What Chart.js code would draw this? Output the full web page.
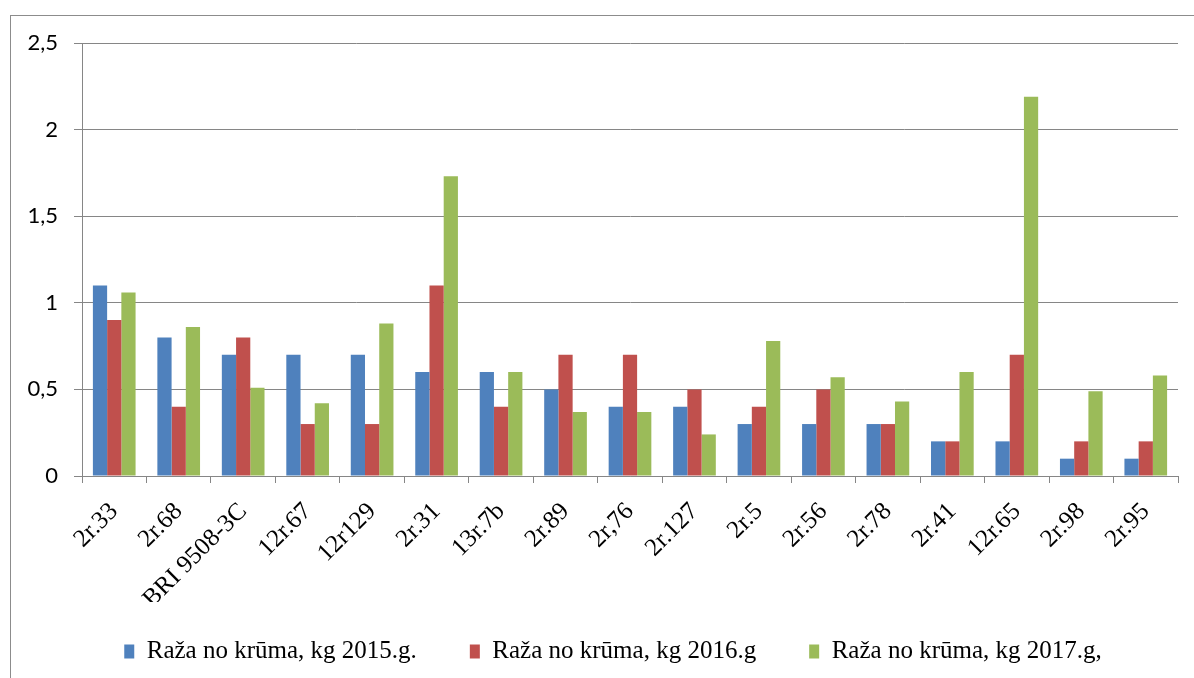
<!DOCTYPE html>
<html>
<head>
<meta charset="utf-8">
<script src="https://cdn.jsdelivr.net/npm/chart.js@4/dist/chart.umd.min.js"></script>
<style>
  html, body { margin: 0; padding: 0; background: #fff; overflow: hidden; }
  #wrap { position: relative; width: 1194px; height: 678px; overflow: hidden; }
  #frame { position: absolute; left: 10px; top: 15px; width: 1300px; height: 800px;
           border-left: 1px solid #8c8c8c; border-top: 1px solid #8c8c8c; }
  #chart { position: absolute; left: 0; top: 0; }
</style>
</head>
<body>
<div id="wrap">
  <div id="frame"></div>
  <canvas id="chart" width="1194" height="692"></canvas>
</div>
<script>
// varieties (x categories)
const varieties = ["2r.33", "2r.68", "BRI 9508-3C", "12r.67", "12r129", "2r.31", "13r.7b", "2r.89",
  "2r,76", "2r.127", "2r.5", "2r.56", "2r.78", "2r.41", "12r.65", "2r.98", "2r.95"];

// yield per bush, kg
const yield2015 = [1.1, 0.8, 0.7, 0.7, 0.7, 0.6, 0.6, 0.5, 0.4, 0.4, 0.3, 0.3, 0.3, 0.2, 0.2, 0.1, 0.1];
const yield2016 = [0.9, 0.4, 0.8, 0.3, 0.3, 1.1, 0.4, 0.7, 0.7, 0.5, 0.4, 0.5, 0.3, 0.2, 0.7, 0.2, 0.2];
const yield2017 = [1.06, 0.86, 0.51, 0.42, 0.88, 1.73, 0.6, 0.37, 0.37, 0.24, 0.78, 0.57, 0.43, 0.6, 2.19, 0.49, 0.58];

const seriesNames = ["Raža no krūma, kg 2015.g.", "Raža no krūma, kg 2016.g", "Raža no krūma, kg 2017.g,"];
const yTicks = [0, 0.5, 1, 1.5, 2, 2.5];

const gridGray = "#868686";
const serif = "'Liberation Serif', 'Times New Roman', serif";

// legend needs a wide gap between items but not that much room above it
const nudgeLegend = {
  id: "nudgeLegend",
  afterLayout(chart) {
    const lg = chart.legend;
    lg.top -= 16;
    lg.bottom -= 16;
    lg.left += 24;
    lg.right += 24;
  }
};

const ctx = document.getElementById("chart").getContext("2d");
const chart = new Chart(ctx, {
  type: "bar",
  data: {
    labels: varieties,
    datasets: [
      { label: seriesNames[0], data: yield2015, backgroundColor: "#4F81BD" },
      { label: seriesNames[1], data: yield2016, backgroundColor: "#C0504D" },
      { label: seriesNames[2], data: yield2017, backgroundColor: "#9BBB59" }
    ]
  },
  options: {
    responsive: false,
    animation: false,
    datasets: {
      bar: { categoryPercentage: 0.662, barPercentage: 1, borderWidth: 0 }
    },
    layout: { padding: { top: 43, right: 16, bottom: 2, left: 0 } },
    plugins: {
      tooltip: { enabled: false },
      legend: {
        position: "bottom",
        labels: {
          color: "#000",
          font: { family: serif, size: 25 },
          boxWidth: 10,
          boxHeight: 14,
          padding: 53
        }
      }
    },
    scales: {
      x: {
        grid: { offset: true, drawOnChartArea: false, color: gridGray, tickLength: 7 },
        border: { color: gridGray },
        ticks: {
          color: "#000",
          font: { family: serif, size: 25 },
          minRotation: 45,
          maxRotation: 45,
          autoSkip: false,
          padding: 14
        },
        afterFit: s => { s.height = 126; }
      },
      y: {
        min: 0,
        max: 2.5,
        afterBuildTicks: s => { s.ticks = yTicks.map(v => ({ value: v })); },
        grid: { color: gridGray, tickLength: 8 },
        border: { color: gridGray },
        ticks: {
          color: "#000",
          font: { family: "Lato, 'Open Sans', sans-serif", size: 22 },
          padding: 16,
          callback: v => String(v).replace(".", ",")
        },
        afterFit: s => { s.width = 82; }
      }
    }
  },
  plugins: [nudgeLegend]
});
</script>
</body>
</html>
